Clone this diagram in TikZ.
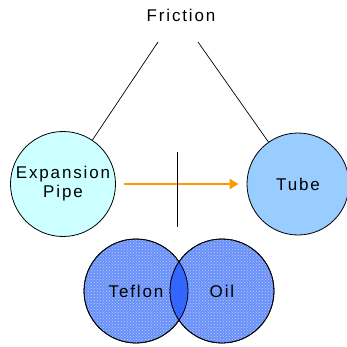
\documentclass[tikz,border=0pt]{standalone}
\usepackage{fontspec}
\setmainfont{Liberation Sans}[LetterSpace=11]
\definecolor{pipecol}{HTML}{CCFFFF}
\definecolor{tubecol}{HTML}{99CCFF}
\definecolor{venncol}{HTML}{6A90F8}
\definecolor{dotcol}{HTML}{B8D0FF}
\definecolor{lenscol}{HTML}{3366FF}
\definecolor{arrowcol}{HTML}{FF9900}
\usetikzlibrary{arrows.meta,patterns}
\begin{document}
\begin{tikzpicture}[x=1pt,y=-1pt,
    font=\fontsize{17}{19}\selectfont,
    ball/.style={circle,draw=black,line width=0.8pt,inner sep=0pt,align=center}]

    \useasboundingbox (0,0) rectangle (347,347);

    \node (friction) at (181,15) {Friction};
    \node[ball,fill=pipecol,minimum size=105pt] (pipe) at (63,184) {Expansion\\Pipe};
    \node[ball,fill=tubecol,minimum size=102pt] (tube) at (298,184) {Tube};

    \node[ball,fill=venncol,minimum size=104pt] (teflon) at (136,291) {};
    \node[ball,fill=venncol,minimum size=104pt] (oil) at (222,291) {};
    \fill[pattern=crosshatch dots,pattern color=dotcol]
        (teflon.center) circle (52pt) (oil.center) circle (52pt);

    \scope
    \clip (teflon.center) circle (52pt);
    \fill[lenscol] (oil.center) circle (52pt);
    \endscope

    % outline
    \draw[line width=0.8pt] (teflon.center) circle (52pt) (oil.center) circle (52pt);
    \node at (teflon.center) {Teflon};
    \node at (oil.center) {Oil};

    % connectors
    \coordinate (fl) at (158,42);
    \coordinate (fr) at (198,42);
    \coordinate (bartop) at (177,152);
    \coordinate (barbot) at (177,227);
    \draw[line width=0.7pt] (fl) -- (pipe) (fr) -- (tube);
    \draw[arrowcol,line width=2.5pt,-{Triangle[length=9pt,width=10pt]},
        shorten <=8pt,shorten >=8pt] (pipe) -- (tube);
    \draw[line width=0.7pt] (bartop) -- (barbot);
\end{tikzpicture}
\end{document}
